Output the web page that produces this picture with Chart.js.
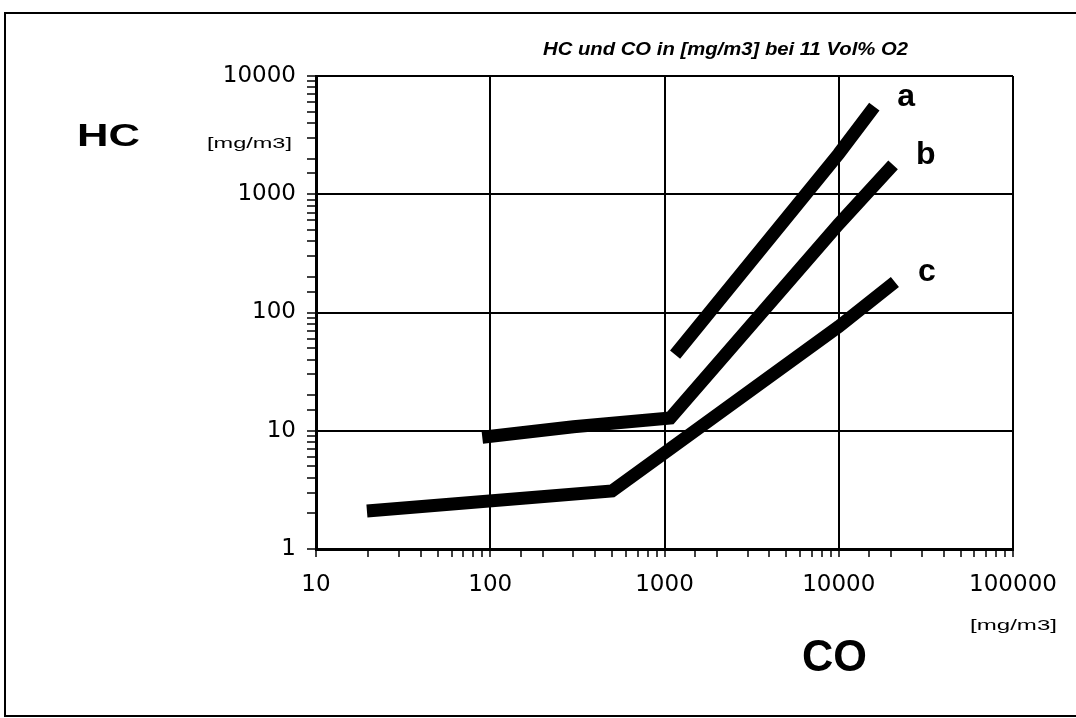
<!DOCTYPE html>
<html>
<head>
<meta charset="utf-8">
<script src="https://cdn.jsdelivr.net/npm/chart.js@4/dist/chart.umd.min.js"></script>
<style>
    html, body { margin: 0; padding: 0; background: #fff; }
    body { width: 1076px; height: 718px; position: relative; overflow: hidden; }
    .frame {
        position: absolute; left: 4px; top: 12px;
        width: 1100px; height: 701px;
        border: 2px solid #000; border-right: none;
    }
    #hc_co_chart { position: absolute; left: 0; top: 0; }
</style>
</head>
<body>
<div class="frame"></div>
<canvas id="hc_co_chart" width="1076" height="718"></canvas>
<script>
// CO [mg/m3] on x, HC [mg/m3] on y, both at 11 Vol% O2
const CURVE_A_CO = [1150, 10000, 16000]
const CURVE_A_HC = [44, 2200, 5500]

const CURVE_B_CO = [90, 300, 1080, 10000, 20500]
const CURVE_B_HC = [8.8, 10.8, 12.8, 560, 1770]

const CURVE_C_CO = [19.6, 500, 10000, 21000]
const CURVE_C_HC = [2.1, 3.1, 76, 181]

const CURVE_NAMES = ['a', 'b', 'c']

const X_TICK_LABELS = [10, 100, 1000, 10000, 100000]
const Y_TICK_LABELS = [1, 10, 100, 1000, 10000]

const toPoints = (xs, ys) => xs.map((x, i) => ({ x: x, y: ys[i] }))

const curve = (name, xs, ys) => ({
    label: name,
    data: toPoints(xs, ys),
    borderColor: '#000',
    backgroundColor: '#000',
    borderWidth: 13,
    borderCapStyle: 'butt',
    borderJoinStyle: 'miter',
    pointRadius: 0,
    tension: 0,
})

// draws text squeezed/stretched to a given width
function drawText(ctx, text, x, y, font, width) {
    ctx.font = font
    const w = ctx.measureText(text).width
    ctx.save()
    ctx.translate(x, y)
    ctx.scale(width ? width / w : 1, 1)
    ctx.fillText(text, 0, 0)
    ctx.restore()
}

const chartTexts = {
    id: 'chartTexts',
    afterDraw(chart) {
        const ctx = chart.ctx
        ctx.save()
        ctx.fillStyle = '#000'
        ctx.textAlign = 'left'
        ctx.textBaseline = 'alphabetic'

        drawText(ctx, 'HC und CO in [mg/m3] bei 11 Vol% O2', 543, 55, 'italic bold 19px "Liberation Sans"', 365)
        drawText(ctx, 'HC', 77, 146, 'bold 31px "Liberation Sans"', 63)
        drawText(ctx, '[mg/m3]', 207, 148, '15px "Liberation Sans"', 85)
        drawText(ctx, 'CO', 802, 671, 'bold 44px "Liberation Sans"', 65)
        drawText(ctx, '[mg/m3]', 970, 630, '15px "Liberation Sans"', 87)

        // curve names next to the upper end of each line
        chart.data.datasets.forEach((ds, i) => {
            const last = chart.getDatasetMeta(i).data.at(-1)
            ctx.font = 'bold 32px "Liberation Sans"'
            ctx.fillText(CURVE_NAMES[i], last.x + 23, last.y - 1)
        })
        ctx.restore()
    }
}

const isLabelled = (list, v) => list.includes(v)

const ctx = document.getElementById('hc_co_chart')

const hcChart = new Chart(ctx, {
    type: 'line',
    data: {
        datasets: [
            curve('a', CURVE_A_CO, CURVE_A_HC),
            curve('b', CURVE_B_CO, CURVE_B_HC),
            curve('c', CURVE_C_CO, CURVE_C_HC),
        ]
    },
    options: {
        responsive: false,
        animation: false,
        layout: { padding: { top: 76, right: 63, bottom: 0, left: 0 } },
        plugins: {
            legend: { display: false },
            tooltip: { enabled: false },
        },
        scales: {
            x: {
                type: 'logarithmic',
                min: 10,
                max: 100000,
                afterFit: scale => { scale.height = 169 },
                border: { color: '#000', width: 3 },
                grid: {
                    color: c => isLabelled(X_TICK_LABELS, c.tick.value) ? '#000' : 'rgba(0,0,0,0)',
                    lineWidth: 2,
                    tickColor: '#000',
                    tickWidth: 1.5,
                    tickLength: 8,
                },
                ticks: {
                    autoSkip: false,
                    maxRotation: 0,
                    padding: 14,
                    color: '#000',
                    font: { family: 'DejaVu Sans', size: 23 },
                    callback: v => isLabelled(X_TICK_LABELS, v) ? String(v) : '',
                },
            },
            y: {
                type: 'logarithmic',
                min: 1,
                max: 10000,
                afterFit: scale => { scale.width = 316 },
                border: { color: '#000', width: 3 },
                grid: {
                    color: c => isLabelled(Y_TICK_LABELS, c.tick.value) ? '#000' : 'rgba(0,0,0,0)',
                    lineWidth: 2,
                    tickColor: '#000',
                    tickWidth: 1.5,
                    tickLength: 9,
                },
                ticks: {
                    autoSkip: false,
                    padding: 11,
                    color: '#000',
                    font: { family: 'DejaVu Sans', size: 23 },
                    callback: v => isLabelled(Y_TICK_LABELS, v) ? String(v) : '',
                },
            },
        },
    },
    plugins: [chartTexts],
})
</script>
</body>
</html>
